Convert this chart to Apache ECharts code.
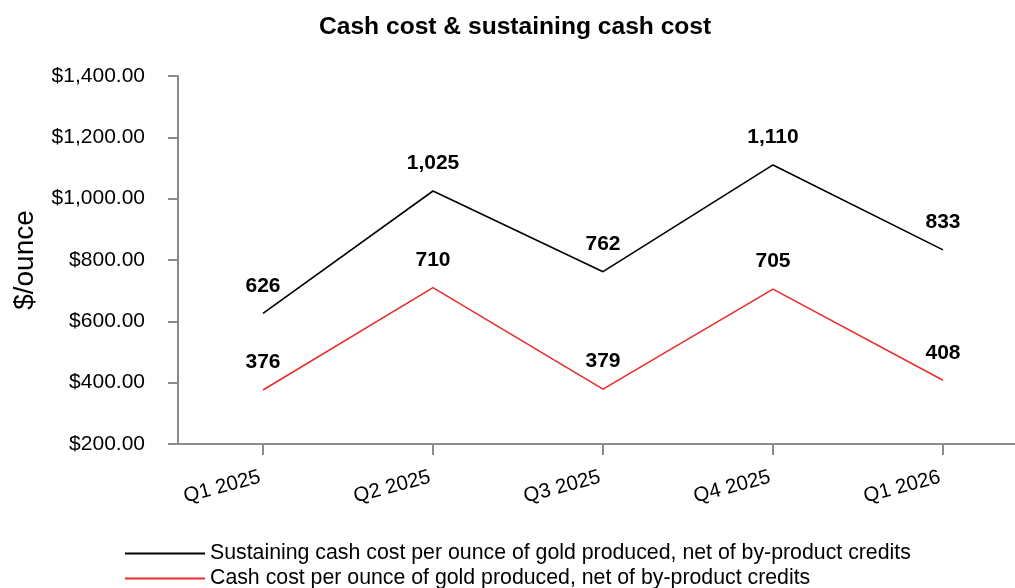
<!DOCTYPE html>
<html>
<head>
<meta charset="utf-8">
<script src="https://cdn.jsdelivr.net/npm/echarts@6/dist/echarts.min.js"></script>
<style>
  html, body { margin: 0; padding: 0; background: #fff; }
  #chart { width: 1015px; height: 588px; }
</style>
</head>
<body>
<div id="chart"></div>
<script>
// Quarterly cost per ounce of gold produced
const quarters = ['Q1 2025', 'Q2 2025', 'Q3 2025', 'Q4 2025', 'Q1 2026'];
const sustainingCashCost = [626, 1025, 762, 1110, 833];
const cashCost = [376, 710, 379, 705, 408];
const yTicks = [200, 400, 600, 800, 1000, 1200, 1400];

const sustainingName = 'Sustaining cash cost per ounce of gold produced, net of by-product credits';
const cashName = 'Cash cost per ounce of gold produced, net of by-product credits';

const font = 'Arial, "Liberation Sans", Helvetica, sans-serif';
const axisGray = '#8c8c8c';
const red = '#ea2d2a';

const fmtThousands = v => v.toLocaleString('en-US');
const fmtDollar = v => '$' + v.toLocaleString('en-US', { minimumFractionDigits: 2, maximumFractionDigits: 2 });

const valueLabel = {
  show: true,
  position: 'top',
  distance: 17,
  color: '#000',
  fontFamily: font,
  fontWeight: 'bold',
  fontSize: 21,
  formatter: p => fmtThousands(p.value)
};

// one legend block per row so the two entries stack under the plot
const legendRow = (name, top) => ({
  orient: 'horizontal',
  left: 120,
  top: top,
  itemWidth: 80,
  itemHeight: 14,
  icon: 'path://M0,0 L80,0 L80,2 L0,2 Z',
  textStyle: { fontFamily: font, fontSize: 21.3, color: '#000', padding: [0, 0, 0, 0] },
  data: [name]
});

const chart = echarts.init(document.getElementById('chart'), null, { renderer: 'canvas' });
chart.setOption({
  animation: false,
  backgroundColor: '#fff',
  textStyle: { fontFamily: font },
  title: {
    text: 'Cash cost & sustaining cash cost',
    left: 314,
    top: 10,
    textStyle: { fontFamily: font, fontWeight: 'bold', fontSize: 24.6, color: '#000' }
  },
  legend: [legendRow(sustainingName, 538), legendRow(cashName, 563)],
  grid: { left: 178, width: 850, top: 76, bottom: 144, outerBoundsMode: 'none', containLabel: false },
  xAxis: {
    type: 'category',
    data: quarters,
    boundaryGap: true,
    axisLine: { lineStyle: { color: axisGray, width: 2 } },
    axisTick: { show: true, alignWithLabel: true, length: 11, lineStyle: { color: axisGray, width: 2 } },
    axisLabel: { rotate: 15, margin: 32, padding: [0, 3, 0, 0], color: '#000', fontFamily: font, fontSize: 20.5 }
  },
  yAxis: {
    type: 'value',
    min: yTicks[0],
    max: yTicks[yTicks.length - 1],
    interval: 200,
    name: '$/ounce',
    nameLocation: 'middle',
    nameGap: 139,
    nameRotate: 90,
    nameTextStyle: { fontFamily: font, fontSize: 28, color: '#000' },
    splitLine: { show: false },
    axisLine: { show: true, lineStyle: { color: axisGray, width: 2 } },
    axisTick: { show: true, length: 10, lineStyle: { color: axisGray, width: 2 } },
    axisLabel: { margin: 33, color: '#000', fontFamily: font, fontSize: 21, formatter: fmtDollar }
  },
  series: [
    {
      name: sustainingName,
      type: 'line',
      data: sustainingCashCost,
      symbol: 'circle',
      symbolSize: 0.001,
      color: '#000',
      lineStyle: { color: '#000', width: 1.6 },
      label: valueLabel
    },
    {
      name: cashName,
      type: 'line',
      data: cashCost,
      symbol: 'circle',
      symbolSize: 0.001,
      color: red,
      lineStyle: { color: red, width: 1.6 },
      label: valueLabel
    }
  ]
});
</script>
</body>
</html>
